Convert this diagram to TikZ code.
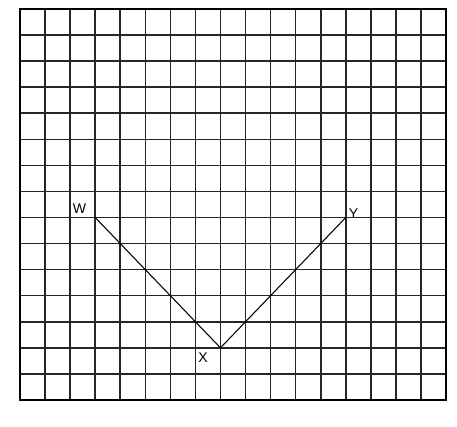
\documentclass[tikz,border=0pt]{standalone}
\usepackage{fontspec}
\setmainfont{Liberation Sans}
\usetikzlibrary{positioning}

\begin{document}
\begin{tikzpicture}[
  x=0.5012cm, y=-0.5213cm,
  gridline/.style={line width=0.9pt, black!85},
  frame/.style={line width=1.6pt, black},
  vline/.style={line width=0.6pt, black},
  lbl/.style={font=\fontsize{8}{9}\selectfont, inner sep=1.5pt}
]
  \useasboundingbox (-0.798,-0.345) rectangle (17.439,16.036);

  % squared paper
  \foreach \i in {1,...,16} \draw[gridline] (\i,0) -- (\i,15);
  \foreach \j in {1,...,14} \draw[gridline] (0,\j) -- (17,\j);
  \draw[frame] (0,0) rectangle (17,15);

  % the angle
  \coordinate (W) at (3,8);
  \coordinate (X) at (8,13);
  \coordinate (Y) at (13,8);
  \draw[vline] (W) -- (X) -- (Y);

  \node[lbl, above left=0.5pt and 3.5pt of W] (lblW) {W};
  \node[lbl, below left=1pt and 5.5pt of X] (lblX) {X};
  \node[lbl, above right=-2.5pt and 0pt of Y] (lblY) {Y};
\end{tikzpicture}
\end{document}
